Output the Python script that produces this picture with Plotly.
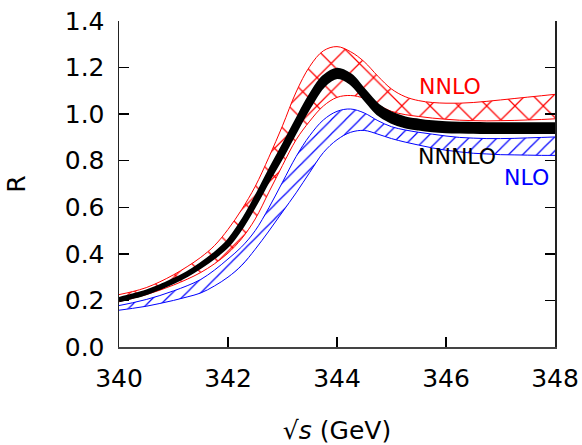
import plotly.graph_objects as go

# sqrt(s) grid (GeV)
sqrt_s = [340, 340.25, 340.5, 340.75, 341, 341.25, 341.5, 341.75, 342, 342.25, 342.5,
          342.75, 343, 343.25, 343.5, 343.75, 344, 344.25, 344.5, 344.75, 345, 345.25,
          345.5, 345.75, 346, 346.25, 346.5, 346.75, 347, 347.25, 347.5, 347.75, 348]

# NNLO band (red cross-hatch)
nnlo_upper = [0.225, 0.238, 0.255, 0.280, 0.310, 0.345, 0.385, 0.435, 0.505, 0.590, 0.690,
              0.815, 0.950, 1.095, 1.205, 1.272, 1.290, 1.268, 1.225, 1.163, 1.108, 1.075,
              1.058, 1.050, 1.047, 1.047, 1.050, 1.055, 1.061, 1.067, 1.073, 1.079, 1.085]
nnlo_lower = [0.195, 0.209, 0.225, 0.244, 0.266, 0.291, 0.320, 0.357, 0.403, 0.465, 0.550,
              0.665, 0.780, 0.890, 0.970, 1.035, 1.072, 1.080, 1.068, 1.040, 1.012, 0.998,
              0.990, 0.983, 0.978, 0.974, 0.972, 0.971, 0.972, 0.973, 0.975, 0.977, 0.980]

# NLO band (blue hatch)
nlo_upper = [0.178, 0.190, 0.204, 0.221, 0.241, 0.263, 0.290, 0.330, 0.378, 0.430, 0.500,
             0.598, 0.708, 0.818, 0.908, 0.975, 1.012, 1.022, 1.005, 0.972, 0.946, 0.932,
             0.922, 0.914, 0.906, 0.900, 0.897, 0.895, 0.895, 0.896, 0.898, 0.900, 0.902]
nlo_lower = [0.158, 0.166, 0.175, 0.187, 0.200, 0.215, 0.232, 0.262, 0.300, 0.350, 0.420,
             0.498, 0.580, 0.662, 0.750, 0.835, 0.890, 0.922, 0.930, 0.914, 0.895, 0.880,
             0.867, 0.855, 0.845, 0.838, 0.832, 0.829, 0.826, 0.825, 0.824, 0.823, 0.823]

# NNNLO band (black): central value and half-width
nnnlo_center = [0.203, 0.218, 0.235, 0.257, 0.283, 0.313, 0.350, 0.393, 0.445, 0.525, 0.625,
                0.735, 0.840, 0.950, 1.055, 1.140, 1.175, 1.150, 1.085, 1.020, 0.985, 0.965,
                0.955, 0.948, 0.944, 0.942, 0.941, 0.940, 0.940, 0.940, 0.940, 0.940, 0.940]
nnnlo_halfwidth = [0.003, 0.003, 0.003, 0.003, 0.004, 0.004, 0.005, 0.006, 0.008, 0.010, 0.012,
                   0.015, 0.018, 0.019, 0.020, 0.018, 0.016, 0.016, 0.016, 0.017, 0.017, 0.017,
                   0.017, 0.017, 0.017, 0.017, 0.017, 0.017, 0.017, 0.017, 0.017, 0.017, 0.017]
nnnlo_upper = [c + h for c, h in zip(nnnlo_center, nnnlo_halfwidth)]
nnnlo_lower = [c - h for c, h in zip(nnnlo_center, nnnlo_halfwidth)]

labels = ["NNLO", "NNNLO", "NLO"]
label_x = [346.08, 346.2, 347.48]
label_y = [1.117, 0.816, 0.73]
label_colors = ["#ff0000", "#000000", "#0000ff"]

x_ticks = [340, 342, 344, 346, 348]
y_ticks = [0.0, 0.2, 0.4, 0.6, 0.8, 1.0, 1.2, 1.4]

FONT = "DejaVu Sans"

fig = go.Figure()

# NNLO
fig.add_trace(go.Scatter(x=sqrt_s, y=nnlo_lower, mode="lines",
                         line=dict(color="#ff0000", width=1, shape="spline"),
                         showlegend=False, hoverinfo="skip"))
fig.add_trace(go.Scatter(x=sqrt_s, y=nnlo_upper, mode="lines",
                         line=dict(color="#ff0000", width=1, shape="spline"),
                         fill="tonexty", fillcolor="rgba(0,0,0,0)",
                         fillpattern=dict(shape="x", fgcolor="#ff0000", fgopacity=1,
                                          bgcolor="rgba(0,0,0,0)", size=20, solidity=0.12),
                         showlegend=False, hoverinfo="skip"))
# NLO
fig.add_trace(go.Scatter(x=sqrt_s, y=nlo_lower, mode="lines",
                         line=dict(color="#0000ff", width=1, shape="spline"),
                         showlegend=False, hoverinfo="skip"))
fig.add_trace(go.Scatter(x=sqrt_s, y=nlo_upper, mode="lines",
                         line=dict(color="#0000ff", width=1, shape="spline"),
                         fill="tonexty", fillcolor="rgba(0,0,0,0)",
                         fillpattern=dict(shape="/", fgcolor="#0000ff", fgopacity=1,
                                          bgcolor="rgba(0,0,0,0)", size=10, solidity=0.12),
                         showlegend=False, hoverinfo="skip"))
# NNNLO
fig.add_trace(go.Scatter(x=sqrt_s, y=nnnlo_lower, mode="lines",
                         line=dict(color="#000000", width=4, shape="spline"),
                         showlegend=False, hoverinfo="skip"))
fig.add_trace(go.Scatter(x=sqrt_s, y=nnnlo_upper, mode="lines",
                         line=dict(color="#000000", width=4, shape="spline"),
                         fill="tonexty", fillcolor="#000000",
                         showlegend=False, hoverinfo="skip"))

for t, lx, ly, c in zip(labels, label_x, label_y, label_colors):
    fig.add_annotation(x=lx, y=ly, text=t, showarrow=False,
                       font=dict(family=FONT, size=22, color=c),
                       xanchor="center", yanchor="middle")

fig.update_layout(
    width=582, height=445,
    margin=dict(l=119, r=27, t=21, b=98),
    paper_bgcolor="white", plot_bgcolor="white",
    font=dict(family=FONT, size=25, color="black"),
    showlegend=False,
)
fig.update_xaxes(range=[340, 348], tickvals=x_ticks, ticktext=[str(v) for v in x_ticks],
                 ticks="inside", ticklen=10, tickwidth=1.5, tickcolor="black",
                 showline=True, linecolor="#444", linewidth=1.5, mirror=False,
                 showgrid=False, zeroline=False, automargin=False,
                 ticklabeloverflow="allow",
                 tickfont=dict(family=FONT, size=25, color="black"),
                 ticklabelstandoff=8,
                 title=dict(text="√<i>s</i> (GeV)",
                            font=dict(family=FONT, size=25, color="black"), standoff=30))
fig.update_yaxes(range=[0, 1.4], tickvals=y_ticks, ticktext=[f"{v:.1f}" for v in y_ticks],
                 ticks="inside", ticklen=10, tickwidth=1.5, tickcolor="black",
                 showline=True, linecolor="#222", linewidth=1.5, mirror="ticks",
                 showgrid=False, zeroline=False, automargin=False,
                 ticklabeloverflow="allow",
                 tickfont=dict(family=FONT, size=25, color="black"),
                 ticklabelstandoff=8,
                 title=dict(text="R", font=dict(family=FONT, size=25, color="black"), standoff=32))

# remove the default page margin so the 582x445 figure fills the window exactly
fig.write_html("out.html",
               config={"displayModeBar": False, "staticPlot": True},
               post_script="document.body.style.margin='0px';document.body.style.overflow='hidden';")
